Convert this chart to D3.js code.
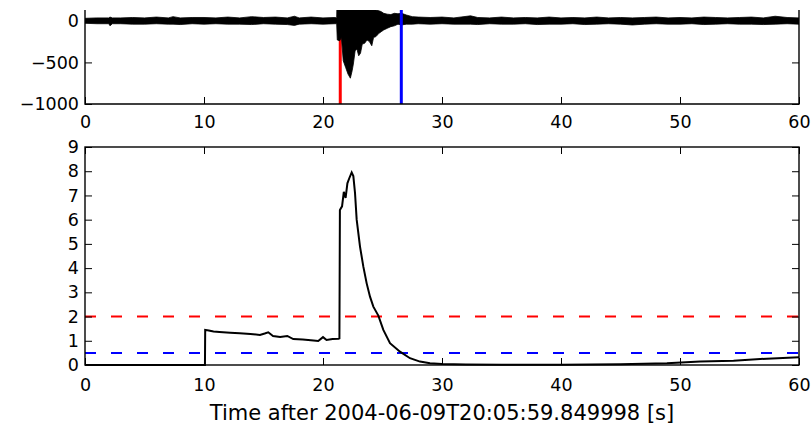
<!DOCTYPE html>
<html>
<head>
<meta charset="utf-8">
<script src="https://d3js.org/d3.v7.min.js"></script>
<style>
  body { margin: 0; background: #fff; }
  svg text { font-family: "DejaVu Sans", sans-serif; font-size: 17.5px; fill: #000; }
</style>
</head>
<body>
<script>
(function() {

  // seismogram envelope (seconds, upper / lower counts)
  const waveT  = [0, 1, 2, 2.1, 2.3, 3, 4, 5, 6, 7, 7.4, 8, 9, 10, 11, 12, 13, 14, 15, 16, 17, 17.6, 18, 19, 20, 21, 21.15,
                  21.2, 21.4, 21.55, 21.7, 21.9, 22.1, 22.3, 22.45, 22.55, 22.7, 22.85, 23.0, 23.15, 23.3, 23.5, 23.7, 23.9, 24.1, 24.25,
                  24.45, 24.7, 24.9, 25.1, 25.4, 25.7, 26.0, 26.3, 26.6, 27.0, 27.5, 28, 29, 30, 31, 32.4, 33, 34, 35, 36, 37, 38, 39,
                  40, 41, 42, 43, 44, 45, 46, 47, 48, 49, 50, 51, 52, 53, 54, 55, 56, 57, 58, 59, 60];
  const waveHi = [30, 35, 35, 45, 35, 35, 40, 35, 45, 35, 50, 35, 40, 40, 35, 45, 35, 50, 40, 45, 35, 55, 35, 45, 35, 40, 35,
                  400, 400, 400, 400, 400, 400, 400, 400, 400, 400, 400, 400, 400, 400, 400, 400, 400, 400, 400,
                  130, 120, 110, 90, 80, 75, 90, 85, 90, 70, 50, 45, 40, 45, 35, 60, 40, 35, 45, 35, 40, 35, 45,
                  35, 40, 35, 45, 35, 40, 35, 40, 45, 35, 40, 35, 45, 40, 35, 40, 45, 35, 55, 40, 35];
  const waveLo = [-30, -35, -35, -60, -35, -35, -40, -40, -35, -40, -40, -45, -35, -40, -35, -40, -40, -45, -35, -40, -45, -55, -40, -35, -40, -35, -35,
                  -230, -240, -200, -480, -560, -640, -690, -600, -520, -360, -340, -420, -390, -280, -270, -230, -250, -300, -200,
                  -190, -150, -130, -110, -90, -70, -60, -40, -50, -40, -40, -35, -40, -35, -40, -40, -45, -35, -40, -40, -35, -45, -40,
                  -40, -35, -45, -40, -35, -40, -50, -40, -35, -40, -40, -35, -45, -40, -35, -40, -40, -45, -40, -35, -40];

  // STA/LTA characteristic function
  const cftT = [0, 10.08, 10.1, 10.4, 10.8, 11.3, 12.2, 13.0, 13.9, 14.7, 15.1, 15.4, 15.8, 16.4, 17.0, 17.5, 18.3, 19.2, 19.6,
                20.0, 20.3, 20.8, 21.3, 21.38, 21.42, 21.6, 21.75, 21.9, 22.05, 22.2, 22.41, 22.55, 22.69, 22.83, 23.11, 23.39,
                23.67, 23.95, 24.23, 24.65, 25.07, 25.63, 26.47, 27.31, 28.15, 28.99, 30, 32, 35, 40, 45, 48.9, 51.7, 54.5, 57.3, 60];
  const cftV = [0, 0, 1.45, 1.42, 1.38, 1.36, 1.33, 1.31, 1.28, 1.24, 1.3, 1.35, 1.2, 1.16, 1.2, 1.07, 1.05, 1.01, 0.99,
                1.15, 1.03, 1.07, 1.08, 1.1, 6.4, 6.55, 7.15, 6.9, 7.5, 7.7, 7.95, 7.8, 7.1, 6.0, 4.89, 4.06,
                3.37, 2.82, 2.41, 2.04, 1.45, 0.9, 0.55, 0.28, 0.14, 0.07, 0.04, 0.02, 0.01, 0.01, 0.03, 0.07, 0.14, 0.18, 0.26, 0.32];

  const triggerOn = 21.45;
  const triggerOff = 26.58;
  const thrOn = 2.0;
  const thrOff = 0.5;

  const xTicks = [0, 10, 20, 30, 40, 50, 60];
  const waveTicks = [0, -500, -1000];
  const cftTicks = [0, 1, 2, 3, 4, 5, 6, 7, 8, 9];
  const xLabel = "Time after 2004-06-09T20:05:59.849998 [s]";

  let svgContainer = "";
  const width = 812, height = 427;
  const top = { left: 85, right: 799, top: 10, bottom: 104 };
  const bot = { left: 85, right: 799, top: 147, bottom: 365 };

  window.onload = function() {
    svgContainer = d3.select("body")
      .append("svg")
      .attr("width", width)
      .attr("height", height);

    let xScale = d3.scaleLinear().domain([0, 60]).range([top.left, top.right]);
    let yWave = d3.scaleLinear().domain([-1000, 130]).range([top.bottom, top.top]);
    let yCft = d3.scaleLinear().domain([0, 9]).range([bot.bottom, bot.top]);

    drawWave(xScale, yWave);
    drawCft(xScale, yCft);
    drawAxes(xScale, yWave, yCft);
  };

  function drawWave(xScale, yWave) {
    svgContainer.append("clipPath")
      .attr("id", "clipTop")
      .append("rect")
      .attr("x", top.left)
      .attr("y", top.top)
      .attr("width", top.right - top.left)
      .attr("height", top.bottom - top.top);

    let g = svgContainer.append("g").attr("clip-path", "url(#clipTop)");

    // trigger on (sits under the trace)
    g.append("line")
      .attr("x1", xScale(triggerOn)).attr("x2", xScale(triggerOn))
      .attr("y1", top.top).attr("y2", top.bottom)
      .style("stroke", "#ff0000")
      .attr("stroke-width", 3);

    let idx = d3.range(waveT.length);
    let area = d3.area()
      .x(i => xScale(waveT[i]))
      .y0(i => yWave(waveLo[i]))
      .y1(i => yWave(waveHi[i]));

    g.append("path")
      .datum(idx)
      .attr("d", area)
      .style("fill", "#000")
      .style("stroke", "#000")
      .attr("stroke-width", 0.8);

    // trigger off
    g.append("line")
      .attr("x1", xScale(triggerOff)).attr("x2", xScale(triggerOff))
      .attr("y1", top.top).attr("y2", top.bottom)
      .style("stroke", "#0000ff")
      .attr("stroke-width", 3);
  }

  function drawCft(xScale, yCft) {
    svgContainer.append("line")
      .attr("x1", bot.left).attr("x2", bot.right)
      .attr("y1", yCft(thrOn)).attr("y2", yCft(thrOn))
      .style("stroke", "#ff0000")
      .attr("stroke-width", 2)
      .attr("stroke-dasharray", "11,15");

    svgContainer.append("line")
      .attr("x1", bot.left).attr("x2", bot.right)
      .attr("y1", yCft(thrOff)).attr("y2", yCft(thrOff))
      .style("stroke", "#0000ff")
      .attr("stroke-width", 2)
      .attr("stroke-dasharray", "11,15");

    let line = d3.line()
      .x(i => xScale(cftT[i]))
      .y(i => yCft(cftV[i]));

    svgContainer.append("path")
      .datum(d3.range(cftT.length))
      .attr("d", line)
      .style("fill", "none")
      .style("stroke", "#000")
      .attr("stroke-width", 2);
  }

  function drawAxes(xScale, yWave, yCft) {
    let fmt = d3.format("d");
    let tick = 7;

    // top panel
    let gx1 = svgContainer.append("g")
      .attr("transform", "translate(0," + top.bottom + ")")
      .call(d3.axisBottom(xScale).tickValues(xTicks).tickFormat(fmt).tickSize(-tick).tickPadding(12));
    let gy1 = svgContainer.append("g")
      .attr("transform", "translate(" + top.left + ",0)")
      .call(d3.axisLeft(yWave).tickValues(waveTicks).tickFormat(fmt).tickSize(-tick).tickPadding(6));
    let gy1r = svgContainer.append("g")
      .attr("transform", "translate(" + top.right + ",0)")
      .call(d3.axisRight(yWave).tickValues(waveTicks).tickFormat("").tickSize(-tick));

    // bottom panel
    let gx2 = svgContainer.append("g")
      .attr("transform", "translate(0," + bot.bottom + ")")
      .call(d3.axisBottom(xScale).tickValues(xTicks).tickFormat(fmt).tickSize(-tick).tickPadding(14));
    let gx2t = svgContainer.append("g")
      .attr("transform", "translate(0," + bot.top + ")")
      .call(d3.axisTop(xScale).tickValues(xTicks).tickFormat("").tickSize(-tick));
    let gy2 = svgContainer.append("g")
      .attr("transform", "translate(" + bot.left + ",0)")
      .call(d3.axisLeft(yCft).tickValues(cftTicks).tickFormat(fmt).tickSize(-tick).tickPadding(6));
    let gy2r = svgContainer.append("g")
      .attr("transform", "translate(" + bot.right + ",0)")
      .call(d3.axisRight(yCft).tickValues(cftTicks).tickFormat("").tickSize(-tick));

    [gx1, gy1, gy1r, gx2, gx2t, gy2, gy2r].forEach(g => {
      g.select(".domain").remove();
      g.selectAll("line").attr("stroke", "#000").attr("stroke-width", 1);
      g.selectAll("text").attr("fill", "#000").style("font-size", "17.5px").style("font-family", "DejaVu Sans");
    });

    // spines
    svgContainer.append("path")
      .attr("d", "M" + top.left + "," + top.top + "V" + top.bottom + "H" + top.right + "V" + top.top)
      .style("fill", "none")
      .style("stroke", "#000")
      .attr("stroke-width", 1.4);

    svgContainer.append("rect")
      .attr("x", bot.left)
      .attr("y", bot.top)
      .attr("width", bot.right - bot.left)
      .attr("height", bot.bottom - bot.top)
      .style("fill", "none")
      .style("stroke", "#000")
      .attr("stroke-width", 1.4);

    // x axis label
    svgContainer.append("text")
      .attr("x", (bot.left + bot.right) / 2)
      .attr("y", 420)
      .attr("text-anchor", "middle")
      .style("font-size", "21px")
      .text(xLabel);
  }
})();
</script>
</body>
</html>
